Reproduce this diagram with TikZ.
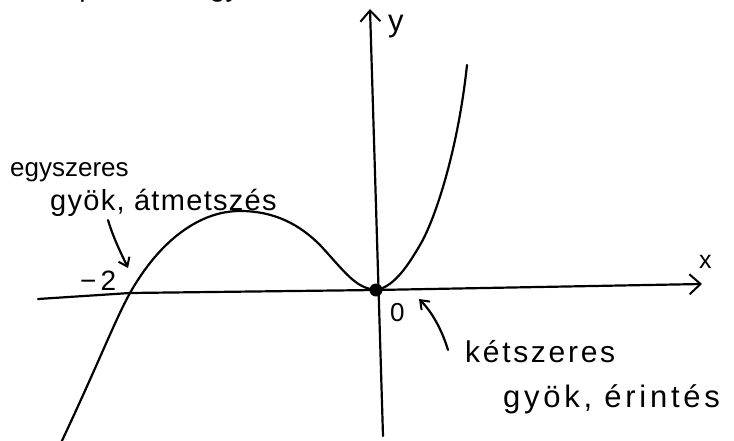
\documentclass[tikz,border=0pt]{standalone}
\usepackage{fontspec}
\setmainfont{Liberation Sans}
\usetikzlibrary{arrows.meta}
\tikzset{
  pen/.style={line width=2.2pt, line cap=round, line join=round},
  barb/.style={-{Straight Barb[length=11pt,width=20pt,line width=2pt]}},
  smallbarb/.style={-{Straight Barb[length=8pt,width=12pt,line width=2pt]}},
  hand/.style={inner sep=0pt, anchor=base west},
}
\begin{document}
\begin{tikzpicture}[x=1pt,y=-1pt]
\useasboundingbox (0,0) rectangle (734,441);
\begin{scope}
\clip (0,0) rectangle (734,441);
% title (cut off at the top)
\node[hand, font=\fontsize{28}{30}\selectfont] (title) at (20,-3) {Multiplicitás és gyök};
% axes
\coordinate (xl) at (38,299);
\coordinate (xr) at (702,284);
\coordinate (yb) at (383,436);
\coordinate (yt) at (370,9);
\draw[pen, barb] (xl) -- (130,293) -- (376,290) -- (xr);
\draw[pen, barb] (yb) -- (yt);
% curve
\draw[pen] (60,445) .. controls (100,360) and (115,320) .. (130,293)
  .. controls (160,240) and (200,211) .. (240,211)
  .. controls (275,211) and (300,225) .. (320,245)
  .. controls (345,272) and (355,288) .. (376,290)
  .. controls (395,287) and (410,262) .. (420,245)
  .. controls (435,220) and (458,150) .. (467,65);
\end{scope}
% origin dot
\node[circle, fill=black, minimum size=13pt, inner sep=0pt] (orig) at (376,290) {};
% labels
\node[hand, font=\fontsize{25}{27}\selectfont] (xlab) at (699,268) {x};
\node[hand, font=\fontsize{31}{33}\selectfont] (ylab) at (388,32) {y};
\node[hand, font=\fontsize{26}{28}\selectfont] (olab) at (390,321) {0};
\node[hand, font=\fontsize{28}{30}\selectfont\addfontfeatures{LetterSpace=15}] (m2) at (80,290) {−2};
\node[hand, font=\fontsize{26}{28}\selectfont] (egy) at (10,176) {egyszeres};
\node[hand, font=\fontsize{29}{31}\selectfont\addfontfeatures{LetterSpace=4.5}] (egy2) at (50,211) {gyök, átmetszés};
\node[hand, font=\fontsize{30}{32}\selectfont\addfontfeatures{LetterSpace=9}] (ket) at (465,362) {kétszeres};
\node[hand, font=\fontsize{31}{33}\selectfont\addfontfeatures{LetterSpace=12}] (ket2) at (503,407) {gyök, érintés};
% annotation arrows
\coordinate (a1s) at (108,220);
\coordinate (a1e) at (128,268);
\draw[pen, smallbarb] (a1s) .. controls (114,240) and (122,255) .. (a1e);
\coordinate (a2s) at (448,350);
\coordinate (a2e) at (419,299);
\draw[pen, smallbarb] (a2s) .. controls (442,330) and (432,312) .. (a2e);
\end{tikzpicture}
\end{document}
